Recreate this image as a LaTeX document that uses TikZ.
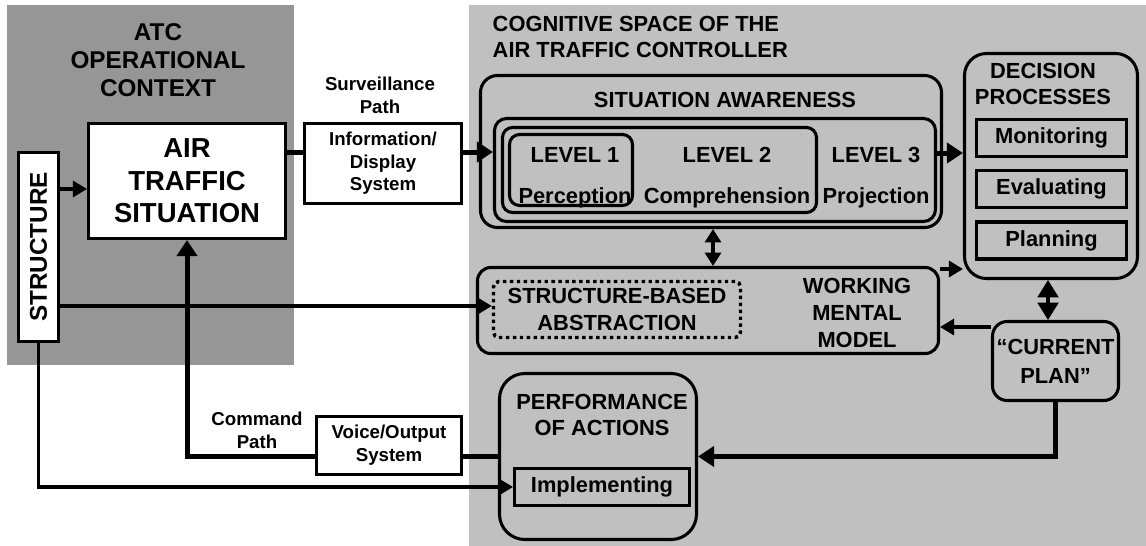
\documentclass[tikz,border=0pt]{standalone}
\usepackage{fontspec}
\setmainfont{Liberation Sans}
\usetikzlibrary{arrows.meta, positioning}

\definecolor{ctxgray}{RGB}{150,150,150}
\definecolor{coggray}{RGB}{192,192,192}
\newcommand{\headfont}{\fontsize{16.4}{20}\selectfont\bfseries}
\newcommand{\ctxfont}{\fontsize{18.2}{21}\selectfont\bfseries}
\newcommand{\lblfont}{\fontsize{14}{17}\selectfont\bfseries}
\newcommand{\bigfont}{\fontsize{20.6}{24.5}\selectfont\bfseries}

\begin{document}
\begin{tikzpicture}[
    x=0.75pt, y=-0.75pt,
    whitebox/.style={draw, line width=2.3pt, fill=white, inner sep=0pt,
                     font=\lblfont, align=center},
    roundbox/.style={draw, line width=2.3pt, rounded corners=#1, inner sep=0pt},
    roundbox/.default=10pt,
    subbox/.style={draw, line width=2.3pt, inner sep=0pt, font=\headfont,
                   minimum width=112.5pt, minimum height=27.75pt},
    head/.style={font=\headfont, align=center},
    lbl/.style={font=\lblfont, align=center},
    arrow/.style={-{Triangle[length=10.5pt, width=12pt]}, line width=2.3pt},
    thickline/.style={line width=3.75pt},
    thickarrow/.style={thickline, -{Triangle[length=12pt, width=15pt]}},
    twoway/.style={{Triangle[length=10pt, width=12pt]}-{Triangle[length=10pt, width=12pt]},
                   line width=2.3pt},
    bigtwoway/.style={{Triangle[length=13pt, width=15.5pt]}-{Triangle[length=13pt, width=15.5pt]},
                   line width=2.3pt}
]
\useasboundingbox (0,0) rectangle (1146,546);

% Backgrounds
\fill[ctxgray] (7,5) rectangle (294,365);
\fill[coggray] (469,5) rectangle (1146,546);

% Titles
\node[font=\ctxfont, align=center] (ctxtitle) at (158,60) {ATC\\OPERATIONAL\\CONTEXT};
\node[head, align=left, anchor=west] (cogtitle) at (488,37)
    {COGNITIVE SPACE OF THE\\AIR TRAFFIC CONTROLLER};

% Operational context
\node[whitebox, minimum width=30pt, minimum height=141.75pt] (struct) at (38.5,247)
    {\ctxfont\rotatebox{90}{STRUCTURE}};
\node[whitebox, font=\bigfont, minimum width=147.75pt, minimum height=86.25pt] (ats) at (187,181)
    {AIR\\TRAFFIC\\SITUATION};
\node[whitebox, minimum width=117.75pt, minimum height=60pt] (info) at (383,163.5)
    {Information/\\Display\\System};
\node[lbl] (survlbl) at (380,95) {Surveillance\\Path};
\node[whitebox, minimum width=108.75pt, minimum height=43.5pt] (voice) at (389,445.5)
    {Voice/Output\\System};
\node[lbl] (cmdlbl) at (257,430) {Command\\Path};

% Situation awareness
\node[roundbox=12.75pt, minimum width=345.75pt, minimum height=114pt] (sa) at (711,151.5) {};
\node[head] (satitle) at (725,100) {SITUATION AWARENESS};
\node[roundbox=9pt, minimum width=330.75pt, minimum height=77.25pt] (lvl3) at (715,170) {};
\node[roundbox=7.5pt, minimum width=235.5pt, minimum height=63.75pt] (lvl2) at (659.5,170) {};
\node[roundbox=7.5pt, minimum width=92.25pt, minimum height=53.25pt] (lvl1) at (571,170) {};
\node[head] (lvl1txt) at (575,178) {LEVEL 1\\[10.75pt]Perception};
\node[head] (lvl2txt) at (727,178) {LEVEL 2\\[10.75pt]Comprehension};
\node[head] (lvl3txt) at (876,178) {LEVEL 3\\[10.75pt]Projection};

% Decision processes
\node[roundbox=16.5pt, minimum width=129.75pt, minimum height=168.75pt] (dp) at (1051,166) {};
\node[head] (dptitle) at (1043,84) {DECISION\\PROCESSES};
\node[subbox] (mon) at (1051.5,138) {Monitoring};
\node[subbox] (eva) at (1051.5,189) {Evaluating};
\node[subbox] (pla) at (1051.5,240.5) {Planning};
\node[roundbox=11pt, head, minimum width=94.5pt, minimum height=59.25pt] (cp) at (1055.5,361)
    {“CURRENT\\[1.75pt]PLAN”};

% Working mental model
\node[roundbox=10pt, minimum width=345.75pt, minimum height=64.5pt] (wmm) at (708,310.5) {};
\node[head] (wmmtxt) at (857,313) {WORKING\\MENTAL\\MODEL};
\node[roundbox=4pt, head, line width=2.6pt, dash pattern=on 2.6pt off 2.6pt,
      minimum width=185.25pt, minimum height=42pt] (sba) at (617,309.5)
    {STRUCTURE-BASED\\ABSTRACTION};

% Performance of actions
\node[roundbox=19pt, minimum width=147.75pt, minimum height=124.5pt] (poa) at (598,456.5) {};
\node[head] (poatitle) at (602,415) {PERFORMANCE\\OF ACTIONS};
\node[subbox, minimum width=131.25pt] (imp) at (602,487) {Implementing};

% Connectors
\draw[arrow] (struct.east |- 0,189) -- (ats.west |- 0,189);
\draw[thickline] (ats.east |- 0,152) -- (info.west |- 0,152);
\draw[thickarrow] (info.east |- 0,152) -- (lvl3.west |- 0,152);
\draw[thickarrow] (lvl3.east |- 0,153) -- (dp.west |- 0,153);
\draw[twoway] (sa.south -| 713,0) -- (wmm.north -| 713,0);
\draw[arrow] (wmm.east |- 0,269) -- (dp.west |- 0,269);
\draw[bigtwoway] (dp.south -| 1048,0) -- (cp.north -| 1048,0);
\draw[arrow] (cp.west |- 0,327) -- (wmm.east |- 0,327);
\draw[thickarrow] (cp.south) |- (poa.east);
\draw[thickline] (poa.west |- 0,456) -- (voice.east |- 0,456);
\draw[thickarrow] (voice.west |- 0,456) -| (ats.south);
\draw[arrow] (struct.east |- 0,306) -- (sba.west |- 0,306);
\draw[arrow] (struct.south) |- (imp.west);

\end{tikzpicture}
\end{document}
